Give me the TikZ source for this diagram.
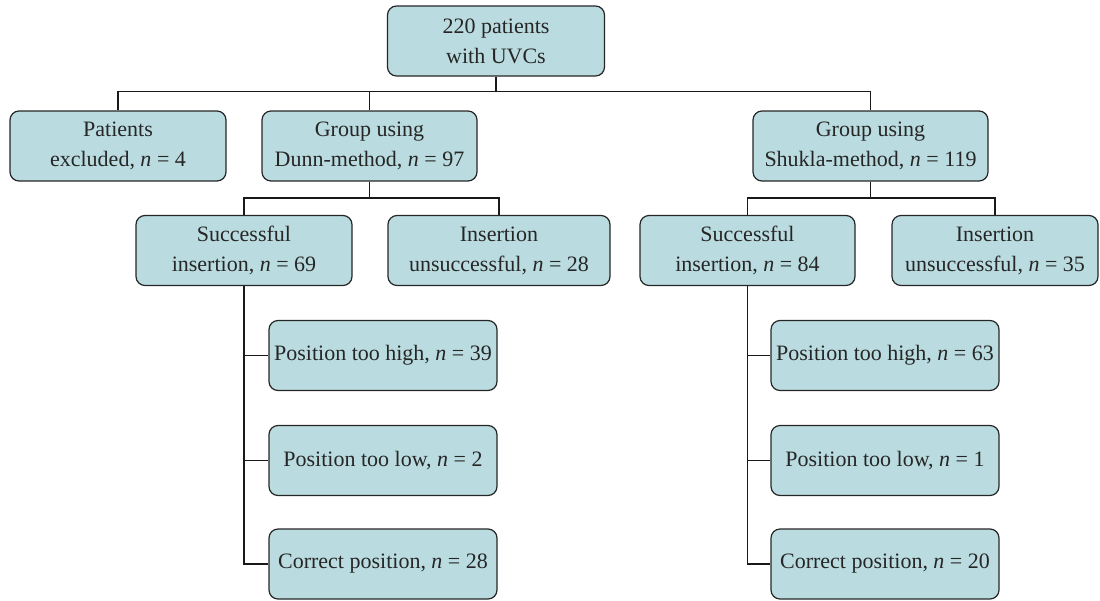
\documentclass[tikz,border=0pt]{standalone}
\usepackage{fontspec}
\setmainfont{Liberation Serif}
\usepackage{tikz}
\definecolor{boxteal}{RGB}{186,220,224}

\begin{document}
\begin{tikzpicture}[x=1pt,y=-1pt]
    \useasboundingbox (0,0) rectangle (1100,600);

    \tikzset{uvcbox/.style={fill=boxteal,draw=black!85,line width=1.2pt,rounded corners=9pt,minimum width=216pt,minimum height=70pt,inner sep=0pt,align=center,text=black!85,font=\fontsize{22}{30}\selectfont}}
    \tikzset{trunk/.style={line width=1.8pt,black!90},branch/.style={line width=1.2pt,black!90}}

    \node[uvcbox,minimum width=217pt] (all) at (496,41) {220 patients\\with UVCs};

    \node[uvcbox] (excl) at (118,146) {Patients\\excluded, \textit{n} = 4};
    \node[uvcbox,minimum width=215pt] (dunn) at (369.5,146) {Group using\\Dunn-method, \textit{n} = 97};
    \node[uvcbox,minimum width=235pt] (shukla) at (870.5,146) {Group using\\Shukla-method, \textit{n} = 119};

    \node[uvcbox] (dsucc) at (244,250.5) {Successful\\insertion, \textit{n} = 69};
    \node[uvcbox,minimum width=222pt] (dfail) at (499,250.5) {Insertion\\unsuccessful, \textit{n} = 28};
    \node[uvcbox,minimum width=215pt] (ssucc) at (747.5,250.5) {Successful\\insertion, \textit{n} = 84};
    \node[uvcbox,minimum width=206pt] (sfail) at (995,250.5) {Insertion\\unsuccessful, \textit{n} = 35};

    \node[uvcbox,minimum width=228pt] (dhigh) at (383,355.5) {Position too high, \textit{n} = 39};
    \node[uvcbox,minimum width=228pt] (dlow) at (383,460.5) {Position too low, \textit{n} = 2};
    \node[uvcbox,minimum width=228pt] (dcorr) at (383,564) {Correct position, \textit{n} = 28};

    \node[uvcbox,minimum width=228pt] (shigh) at (885,355.5) {Position too high, \textit{n} = 63};
    \node[uvcbox,minimum width=228pt] (slow) at (885,460.5) {Position too low, \textit{n} = 1};
    \node[uvcbox,minimum width=228pt] (scorr) at (885,564) {Correct position, \textit{n} = 20};

    \coordinate (j0) at (496,91.5);
    \coordinate (j1) at (369.5,198);
    \coordinate (j2) at (870.5,198);

    \draw[trunk] (all.south) -- (j0);
    \draw[branch] (excl.north) |- (j0) -| (shukla.north);
    \draw[branch] (j0) -| (dunn.north);

    \draw[trunk] (dunn.south) -- (j1);
    \draw[branch] (dsucc.north) |- (j1) -| (dfail.north);

    \draw[trunk] (shukla.south) -- (j2);
    \draw[branch] (ssucc.north) |- (j2) -| (sfail.north);

    \draw[trunk] (dsucc.south) -- (dsucc.south |- dlow.west);
    \draw[branch] (dsucc.south |- dlow.west) |- (dcorr.west);
    \draw[branch] (dsucc.south |- dhigh.west) -- (dhigh.west);
    \draw[branch] (dsucc.south |- dlow.west) -- (dlow.west);

    \draw[trunk] (ssucc.south) -- (ssucc.south |- slow.west);
    \draw[branch] (ssucc.south |- slow.west) |- (scorr.west);
    \draw[branch] (ssucc.south |- shigh.west) -- (shigh.west);
    \draw[branch] (ssucc.south |- slow.west) -- (slow.west);
\end{tikzpicture}
\end{document}
